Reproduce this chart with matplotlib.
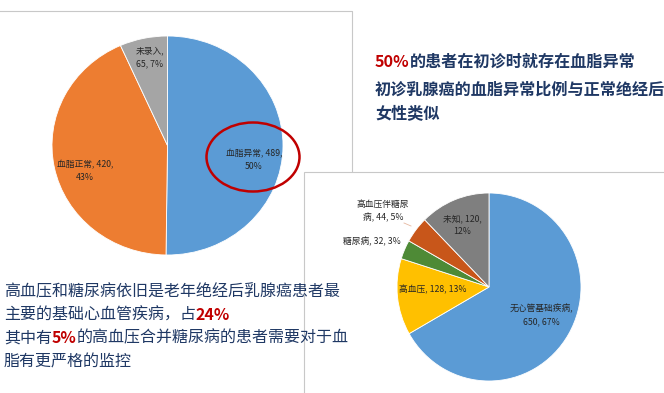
import matplotlib
matplotlib.use('Agg')
import matplotlib.pyplot as plt
from matplotlib.patches import Ellipse

plt.rcParams['font.family'] = ['Noto Sans CJK SC', 'DejaVu Sans']

# Pie 1: lipid status at first diagnosis
lipid_labels = ['血脂异常', '血脂正常', '未录入']
lipid_values = [489, 420, 65]
lipid_colors = ['#5B9BD5', '#ED7D31', '#A5A5A5']

# Pie 2: cardiovascular base diseases
cvd_labels = ['无心管基础疾病', '高血压', '糖尿病', '高血压伴糖尿病', '未知']
cvd_values = [650, 128, 32, 44, 120]
cvd_colors = ['#5B9BD5', '#FFC000', '#4E8A36', '#C8561A', '#7F7F7F']

navy = '#1F3864'
red = '#C00000'

W, H = 664, 393
fig = plt.figure(figsize=(W / 100, H / 100), dpi=100)
renderer = fig.canvas.get_renderer()


def px_axes(x0, y0, x1, y1):
    # axes from pixel box (top-down y)
    return fig.add_axes([x0 / W, (H - y1) / H, (x1 - x0) / W, (y1 - y0) / H])


# Overlay axes in pixel coords (for borders and text)
bg = fig.add_axes([0, 0, 1, 1])
bg.set_xlim(0, W)
bg.set_ylim(H, 0)
bg.axis('off')

bg.plot([0, 352, 352], [10.5, 10.5, 171], color='#C8C8C8', lw=0.8, zorder=1)
bg.add_patch(plt.Rectangle((303.5, 171.5), 400, 300, facecolor='white',
                           edgecolor='#C8C8C8', lw=0.8, zorder=2))


def pie(ax, values, colors):
    ax.pie(values, colors=colors, startangle=90, counterclock=False,
           wedgeprops=dict(edgecolor='white', linewidth=0.6))
    ax.set_aspect('auto')
    ax.set_xlim(-1, 1)
    ax.set_ylim(-1, 1)
    ax.axis('off')


ax1 = px_axes(52, 36, 283, 255)
pie(ax1, lipid_values, lipid_colors)

ax2 = px_axes(397, 193, 581, 381)
ax2.set_zorder(3)
pie(ax2, cvd_values, cvd_colors)

tot1 = sum(lipid_values)
pct1 = [round(v * 100 / tot1) for v in lipid_values]
tot2 = sum(cvd_values)
pct2 = [round(v * 100 / tot2) for v in cvd_values]

over = fig.add_axes([0, 0, 1, 1])
over.set_xlim(0, W)
over.set_ylim(H, 0)
over.axis('off')
over.set_zorder(5)

lfs = 6.3
lab = '#262626'
over.text(254, 160, '%s, %d,\n%d%%' % (lipid_labels[0], lipid_values[0], pct1[0]),
          ha='center', va='center', fontsize=lfs, color=lab, linespacing=1.6)
over.text(85, 171, '%s, %d,\n%d%%' % (lipid_labels[1], lipid_values[1], pct1[1]),
          ha='center', va='center', fontsize=lfs, color=lab, linespacing=1.6)
over.text(150, 57, '%s,\n%d, %d%%' % (lipid_labels[2], lipid_values[2], pct1[2]),
          ha='center', va='center', fontsize=lfs, color=lab, linespacing=1.6)

over.add_patch(Ellipse((253, 157), 93, 69, fill=False, edgecolor=red, lw=1.8))

over.text(541, 315, '%s,\n%d, %d%%' % (cvd_labels[0], cvd_values[0], pct2[0]),
          ha='center', va='center', fontsize=lfs, color=lab, linespacing=1.6)
over.text(433, 290, '%s, %d, %d%%' % (cvd_labels[1], cvd_values[1], pct2[1]),
          ha='center', va='center', fontsize=lfs, color=lab)
over.text(372, 242, '%s, %d, %d%%' % (cvd_labels[2], cvd_values[2], pct2[2]),
          ha='center', va='center', fontsize=lfs, color=lab)
over.text(383, 211, '%s\n病, %d, %d%%' % (cvd_labels[3][:-1], cvd_values[3], pct2[3]),
          ha='center', va='center', fontsize=lfs, color=lab, linespacing=1.6)
over.plot([404, 411], [223, 226], color='#E6B8A0', lw=0.6)
over.text(462, 225, '%s, %d,\n%d%%' % (cvd_labels[4], cvd_values[4], pct2[4]),
          ha='center', va='center', fontsize=lfs, color=lab, linespacing=1.6)


def runon(x, y, parts, fs):
    # draw coloured segments one after another on one line
    for s, c, w in parts:
        t = over.text(x, y, s, color=c, fontsize=fs, fontweight=w,
                      va='center', ha='left')
        bb = t.get_window_extent(renderer)
        x += bb.width


# Right-top commentary
tfs = 11.6
runon(375, 62, [('50%', red, 'bold'),
                ('的患者在初诊时就存在血脂异常', navy, 'bold')], tfs)
runon(375, 90, [('初诊乳腺癌的血脂异常比例与正常绝经后', navy, 'bold')], tfs)
runon(375, 113, [('女性类似', navy, 'bold')], tfs)

# Bottom-left commentary
bfs = 11.5
runon(4, 292, [('高血压和糖尿病依旧是老年绝经后乳腺癌患者最', navy, 'normal')], bfs)
runon(4, 315, [('主要的基础心血管疾病，占', navy, 'normal'),
               ('24%', red, 'bold')], bfs)
runon(4, 338, [('其中有', navy, 'normal'), ('5%', red, 'bold'),
               ('的高血压合并糖尿病的患者需要对于血', navy, 'normal')], bfs)
runon(4, 362, [('脂有更严格的监控', navy, 'normal')], bfs)

plt.savefig('out.png', dpi=100)
